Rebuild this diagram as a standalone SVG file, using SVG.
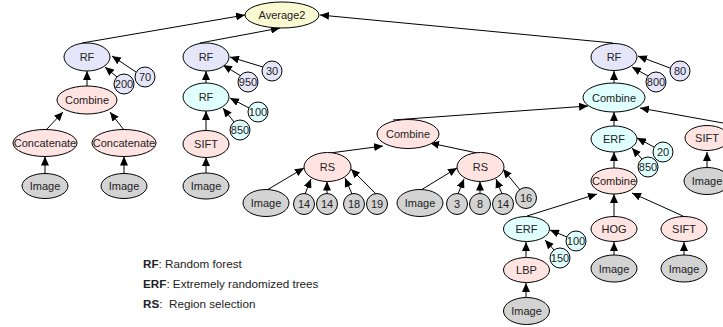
<svg xmlns="http://www.w3.org/2000/svg" width="723" height="327" viewBox="0 0 723 327">
<style>
ellipse,circle{stroke:#000;stroke-width:1}
.av{fill:#fafad2}.rf{fill:#e6e6fa}.pk{fill:#ffe4e1}.cy{fill:#e0ffff}.gr{fill:#d3d3d3}
text{font-family:"Liberation Sans",Arial,sans-serif;font-size:11px;fill:#222;text-anchor:middle;dominant-baseline:central}
.lg{font-size:11.7px;text-anchor:start;dominant-baseline:auto}
#edges line{stroke:#000;stroke-width:1;marker-end:url(#ah)}
</style>
<defs>
<marker id="ah" markerUnits="userSpaceOnUse" markerWidth="10" markerHeight="8" refX="9" refY="4" orient="auto">
<path d="M0,0 L9,4 L0,8 z" fill="#000"/>
</marker>
</defs>
<g id="edges">
<line x1="82" y1="43" x2="245" y2="15"/>
<line x1="200" y1="43" x2="280" y2="28"/>
<line x1="613" y1="43" x2="320" y2="15"/>
<line x1="87" y1="86" x2="87" y2="71"/>
<line x1="117" y1="77" x2="105" y2="67"/>
<line x1="136" y1="72" x2="112" y2="56"/>
<line x1="46" y1="130" x2="63" y2="112"/>
<line x1="124" y1="130" x2="110" y2="112"/>
<line x1="45" y1="173.5" x2="45" y2="156.5"/>
<line x1="124" y1="173.5" x2="124" y2="156.5"/>
<line x1="206" y1="83" x2="206" y2="71"/>
<line x1="263" y1="67" x2="230" y2="57"/>
<line x1="241" y1="76" x2="223" y2="65"/>
<line x1="249" y1="108" x2="230" y2="98"/>
<line x1="234" y1="122" x2="223" y2="108"/>
<line x1="206" y1="131" x2="206" y2="111"/>
<line x1="206" y1="173.5" x2="206" y2="157"/>
<line x1="393" y1="120" x2="588" y2="106"/>
<line x1="330" y1="153" x2="383" y2="146"/>
<line x1="477" y1="153" x2="430" y2="143"/>
<line x1="267" y1="190" x2="304" y2="168"/>
<line x1="305" y1="194" x2="311" y2="179"/>
<line x1="327" y1="193.5" x2="327" y2="181.5"/>
<line x1="352" y1="194" x2="345" y2="178"/>
<line x1="376" y1="194" x2="351" y2="169"/>
<line x1="421" y1="190" x2="457" y2="168"/>
<line x1="458" y1="194" x2="464" y2="179"/>
<line x1="480" y1="193.5" x2="480" y2="181.5"/>
<line x1="502" y1="194" x2="496" y2="179"/>
<line x1="520" y1="190" x2="503" y2="169"/>
<line x1="614" y1="83" x2="614" y2="71"/>
<line x1="648" y1="76" x2="632" y2="67"/>
<line x1="670" y1="68" x2="638" y2="56"/>
<line x1="614" y1="126" x2="614" y2="112"/>
<line x1="723" y1="123" x2="640" y2="108"/>
<line x1="654" y1="147" x2="637" y2="138"/>
<line x1="642" y1="159" x2="632" y2="148"/>
<line x1="707" y1="168" x2="707" y2="152"/>
<line x1="614" y1="168" x2="614" y2="152"/>
<line x1="527" y1="216" x2="597" y2="194"/>
<line x1="614" y1="216" x2="614" y2="194"/>
<line x1="683" y1="216" x2="632" y2="193"/>
<line x1="567" y1="237" x2="550" y2="230"/>
<line x1="554" y1="250" x2="545" y2="240"/>
<line x1="526" y1="257" x2="526" y2="242"/>
<line x1="526" y1="298" x2="526" y2="283"/>
<line x1="614" y1="255" x2="614" y2="242"/>
<line x1="684" y1="255" x2="684" y2="242"/>
</g>
<g id="avg"><ellipse class="av" cx="282" cy="15" rx="37" ry="13"/><text x="282" y="15">Average2</text></g>
<g id="rf1"><ellipse class="rf" cx="87" cy="57" rx="23" ry="14"/><text x="87" y="57">RF</text></g>
<g id="n70"><circle class="rf" cx="145" cy="77" r="10"/><text x="145" y="77">70</text></g>
<g id="n200"><circle class="rf" cx="124" cy="84" r="10"/><text x="124" y="84">200</text></g>
<g id="comb1"><ellipse class="pk" cx="87" cy="100" rx="30" ry="14"/><text x="87" y="100">Combine</text></g>
<g id="cat1"><ellipse class="pk" cx="45" cy="143" rx="32" ry="13.5"/><text x="45" y="143">Concatenate</text></g>
<g id="cat2"><ellipse class="pk" cx="124" cy="143" rx="32" ry="13.5"/><text x="124" y="143">Concatenate</text></g>
<g id="img1"><ellipse class="gr" cx="45" cy="186" rx="23" ry="12.5"/><text x="45" y="186">Image</text></g>
<g id="img2"><ellipse class="gr" cx="124" cy="186" rx="23" ry="12.5"/><text x="124" y="186">Image</text></g>
<g id="rf2"><ellipse class="rf" cx="206" cy="57" rx="23" ry="14"/><text x="206" y="57">RF</text></g>
<g id="n30"><circle class="rf" cx="272" cy="71" r="10"/><text x="272" y="71">30</text></g>
<g id="n950"><circle class="rf" cx="248" cy="82" r="10"/><text x="248" y="82">950</text></g>
<g id="rf3"><ellipse class="cy" cx="206" cy="97" rx="23" ry="14"/><text x="206" y="97">RF</text></g>
<g id="n100a"><circle class="cy" cx="258" cy="112" r="10"/><text x="258" y="112">100</text></g>
<g id="n850a"><circle class="cy" cx="240" cy="130" r="10"/><text x="240" y="130">850</text></g>
<g id="sift1"><ellipse class="pk" cx="206" cy="144" rx="23" ry="13.5"/><text x="206" y="144">SIFT</text></g>
<g id="img3"><ellipse class="gr" cx="206" cy="186" rx="23" ry="13"/><text x="206" y="186">Image</text></g>
<g id="comb2"><ellipse class="pk" cx="408" cy="134" rx="31" ry="14.5"/><text x="408" y="134">Combine</text></g>
<g id="rs1"><ellipse class="pk" cx="327.5" cy="167" rx="23.5" ry="14.5"/><text x="327.5" y="167">RS</text></g>
<g id="rs2"><ellipse class="pk" cx="480.5" cy="167" rx="23.5" ry="14.5"/><text x="480.5" y="167">RS</text></g>
<g id="img4"><ellipse class="gr" cx="266" cy="203" rx="23" ry="13.5"/><text x="266" y="203">Image</text></g>
<g id="n14a"><circle class="gr" cx="304" cy="204" r="10.5"/><text x="304" y="204">14</text></g>
<g id="n14b"><circle class="gr" cx="327" cy="204" r="10.5"/><text x="327" y="204">14</text></g>
<g id="n18"><circle class="gr" cx="354" cy="204" r="10.5"/><text x="354" y="204">18</text></g>
<g id="n19"><circle class="gr" cx="377" cy="204" r="10.5"/><text x="377" y="204">19</text></g>
<g id="img5"><ellipse class="gr" cx="420" cy="203" rx="23" ry="13.5"/><text x="420" y="203">Image</text></g>
<g id="n3"><circle class="gr" cx="457" cy="204" r="10.5"/><text x="457" y="204">3</text></g>
<g id="n8"><circle class="gr" cx="480" cy="204" r="10.5"/><text x="480" y="204">8</text></g>
<g id="n14c"><circle class="gr" cx="503" cy="204" r="10.5"/><text x="503" y="204">14</text></g>
<g id="n16"><circle class="gr" cx="526" cy="198" r="10.5"/><text x="526" y="198">16</text></g>
<g id="rf4"><ellipse class="rf" cx="614" cy="57" rx="23" ry="13.5"/><text x="614" y="57">RF</text></g>
<g id="n80"><circle class="rf" cx="680" cy="71" r="10"/><text x="680" y="71">80</text></g>
<g id="n800"><circle class="rf" cx="656" cy="82" r="10"/><text x="656" y="82">800</text></g>
<g id="comb3"><ellipse class="cy" cx="614" cy="97.5" rx="31" ry="14.5"/><text x="614" y="97.5">Combine</text></g>
<g id="erf1"><ellipse class="cy" cx="614" cy="139" rx="23" ry="13"/><text x="614" y="139">ERF</text></g>
<g id="n20"><circle class="cy" cx="663" cy="152" r="10"/><text x="663" y="152">20</text></g>
<g id="n850b"><circle class="cy" cx="648" cy="167" r="10"/><text x="648" y="167">850</text></g>
<g id="sift2"><ellipse class="pk" cx="707" cy="138" rx="22" ry="12.5"/><text x="707" y="138">SIFT</text></g>
<g id="img6"><ellipse class="gr" cx="707" cy="181" rx="23" ry="13.5"/><text x="707" y="181">Image</text></g>
<g id="comb4"><ellipse class="pk" cx="614" cy="181" rx="23" ry="13"/><text x="614" y="181">Combine</text></g>
<g id="erf2"><ellipse class="cy" cx="526.5" cy="229" rx="23" ry="12.5"/><text x="526.5" y="229">ERF</text></g>
<g id="n100b"><circle class="cy" cx="576" cy="241" r="10"/><text x="576" y="241">100</text></g>
<g id="n150"><circle class="cy" cx="560" cy="258" r="10"/><text x="560" y="258">150</text></g>
<g id="lbp"><ellipse class="pk" cx="526.5" cy="270" rx="23" ry="12.5"/><text x="526.5" y="270">LBP</text></g>
<g id="img7"><ellipse class="gr" cx="526.5" cy="311" rx="23" ry="13.5"/><text x="526.5" y="311">Image</text></g>
<g id="hog"><ellipse class="pk" cx="614" cy="229" rx="23" ry="12.5"/><text x="614" y="229">HOG</text></g>
<g id="img8"><ellipse class="gr" cx="614" cy="268.5" rx="23" ry="13.5"/><text x="614" y="268.5">Image</text></g>
<g id="sift3"><ellipse class="pk" cx="684" cy="229" rx="23" ry="12.5"/><text x="684" y="229">SIFT</text></g>
<g id="img9"><ellipse class="gr" cx="684" cy="268.5" rx="23" ry="13.5"/><text x="684" y="268.5">Image</text></g>
<g id="legend">
<text class="lg" x="143" y="268"><tspan font-weight="bold">RF</tspan>: Random forest</text>
<text class="lg" x="143" y="288"><tspan font-weight="bold">ERF</tspan>: Extremely randomized trees</text>
<text class="lg" x="143" y="308" xml:space="preserve"><tspan font-weight="bold">RS</tspan>:  Region selection</text>
</g>
</svg>
